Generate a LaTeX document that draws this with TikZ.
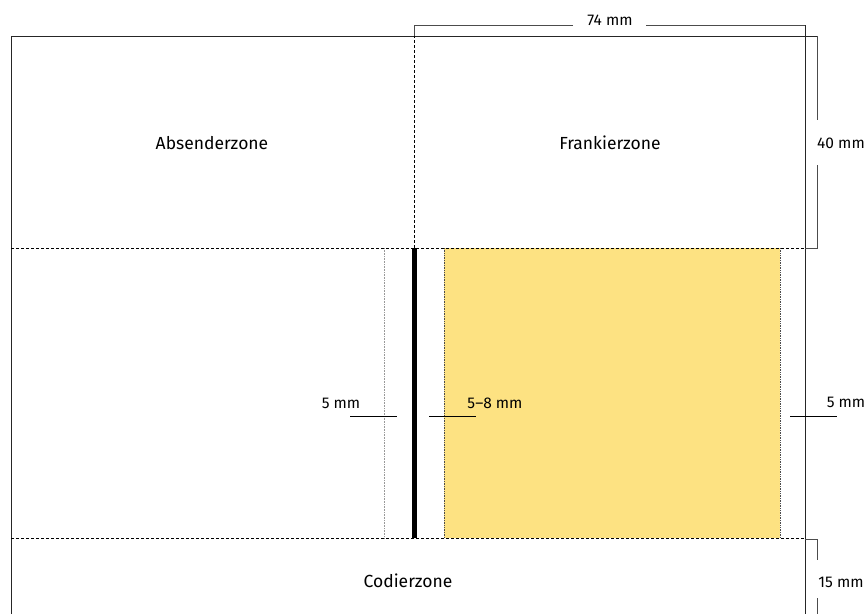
\documentclass[tikz,border=0pt]{standalone}
\usepackage{fontspec}
\setmainfont{Fira Sans}
\usetikzlibrary{positioning}
\definecolor{stampyellow}{HTML}{FDE282}
\tikzstyle{zone label}=[font=\fontsize{17.5}{20}\selectfont, inner sep=0pt]
\tikzstyle{dim label}=[font=\fontsize{15.5}{18}\selectfont, inner sep=0pt]
\tikzstyle{outline}=[draw, line width=1pt, black!85]
\tikzstyle{zone border}=[draw, line width=0.8pt, dash pattern=on 3pt off 2pt]
\tikzstyle{dim line}=[draw, line width=0.8pt, black!70]
\tikzstyle{tick}=[draw, line width=0.9pt, black]

\begin{document}
\begin{tikzpicture}[x=1pt, y=-1pt]
    \useasboundingbox (0,0) rectangle (866,614);

    % stamp area
    \fill[stampyellow] (444,248) rectangle (780,538);
    \draw[densely dotted, line width=0.7pt, black!70] (444,248) -- (444,538);
    \draw[densely dotted, line width=0.7pt, black!70] (780,248) -- (780,538);

    % envelope
    \path[outline] (11,614) -- (11,36) -- (817,36);
    \path[outline] (805,25) -- (805,614);

    % zone borders
    \path[zone border] (11,248) -- (805,248);
    \path[zone border] (11,538) -- (805,538);
    \path[zone border] (414,25) -- (414,248);
    \draw[densely dotted, line width=0.6pt, black!40] (384,248) -- (384,538);
    \fill[black] (411.5,248) rectangle (416.5,538);

    % zone names
    \node[zone label] (sender) at (212,143) {Absenderzone};
    \node[zone label] (franking) at (610,143) {Frankierzone};
    \node[zone label] (coding) at (408,581) {Codierzone};

    % dimensions
    \node[dim label] (width) at (610,20) {74 mm};
    \node[dim label] (height) at (841,143) {40 mm};
    \node[dim label] (bottom) at (841,582) {15 mm};
    \node[dim label] (gapleft) at (341,403) {5 mm};
    \node[dim label] (gapright) at (495,403) {5–8 mm};
    \node[dim label] (margin) at (846,402) {5 mm};

    \coordinate (width w) at (573,25);
    \coordinate (width e) at (646,25);
    \path[dim line] (width w) -- (414,25) -- (414,36);
    \path[dim line] (width e) -- (805,25);
    \path[dim line] (817,36) -- (817,120);
    \path[dim line] (817,165) -- (817,248) -- (805,248);
    \path[dim line] (805,539) -- (817,539) -- (817,560);
    \path[dim line] (817,598) -- (817,614);

    \foreach \from/\to in {350/397, 429/476, 790/837}
        \path[tick] (\from,416) -- (\to,416);
\end{tikzpicture}
\end{document}
